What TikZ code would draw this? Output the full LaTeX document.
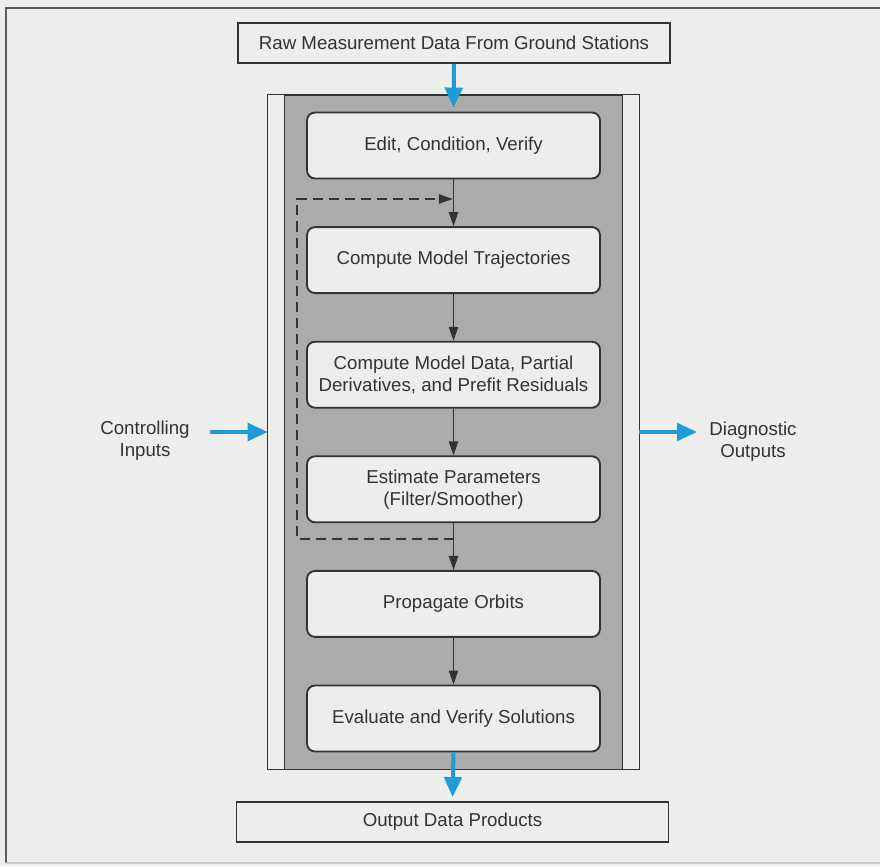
\documentclass[tikz,border=0pt]{standalone}
\usepackage{fontspec}
\setmainfont{Liberation Sans}
\usetikzlibrary{arrows.meta}
\definecolor{paper}{HTML}{ECEEEB}
\definecolor{band}{HTML}{ABABAB}
\definecolor{ink}{HTML}{333333}
\definecolor{flow}{HTML}{1F9BD6}
\tikzset{
	stage/.style={draw=ink,fill=paper,line width=1.4pt,rounded corners=6pt,minimum width=219.75pt,minimum height=49.5pt,align=center,text=ink},
	io/.style={draw=ink,fill=paper,line width=1.4pt,minimum width=324pt,minimum height=30pt,text=ink},
	sidetext/.style={align=center,text=ink},
	feed/.style={draw=ink,line width=1pt,-{Triangle[length=10.5pt,width=7pt]}},
	loopback/.style={feed,dash pattern=on 7.5pt off 4.5pt},
	bluearrow/.style={draw=flow,line width=3pt,-{Triangle[length=15pt,width=13pt]}}
}
\begin{document}
\begin{tikzpicture}[x=0.75pt,y=-0.75pt,font=\fontsize{14}{16.5}\selectfont]
	\useasboundingbox (0,0) rectangle (880,866);
		\fill[paper] (0,0) rectangle (880,866);
		\draw[ink!80,line width=1.2pt] (884,8)--(6,8)--(6,863);
		\draw[ink!25,line width=0.8pt] (6,863)--(884,863);
	\node[fill=paper,minimum width=278.25pt,minimum height=505.5pt] (shell) at (453.5,432) {};
	\node[draw=ink,fill=band,line width=0.6pt,minimum width=253.5pt,minimum height=505.5pt] (core) at (453.5,432) {};
		\draw[ink,line width=1pt] (shell.north west) rectangle (shell.south east);
	\node[io] (raw) at (454,43) {Raw Measurement Data From Ground Stations};
	\node[io] (out) at (452.5,822) {Output Data Products};
	\foreach \txt [count=\i] in {{Edit, Condition, Verify},{Compute Model Trajectories},
			{Compute Model Data, Partial\\Derivatives, and Prefit Residuals},
			{Estimate Parameters\\(Filter/Smoother)},{Propagate Orbits},{Evaluate and Verify Solutions}}
		\node[stage] (s\i) at (453.5,{145.5+114.6*(\i-1)}) {\txt};
	\foreach \i [remember=\i as \last (initially 1)] in {2,...,6}
		\draw[feed] (s\last.south)--(s\i.north);
	\coordinate (fbk) at (453.5,539);
	\coordinate (fbtop) at (453.5,199);
		\draw[loopback,shorten >=0.5pt] (fbk)--++(-156.5,0) |- (fbtop);
	\draw[bluearrow,shorten >=3pt] (raw.south)--(s1.north);
	\draw[bluearrow,shorten >=3pt] (s6.south)--(out.north);
	\node[sidetext] (ctrl) at (145,441) {Controlling\\Inputs};
	\node[sidetext] (diag) at (753,442) {Diagnostic\\Outputs};
	\coordinate (cin) at (210,432);
	\coordinate (dout) at (697,432);
		\draw[bluearrow] (cin)--(shell.west);
		\draw[bluearrow] (shell.east)--(dout);
\end{tikzpicture}
\end{document}
